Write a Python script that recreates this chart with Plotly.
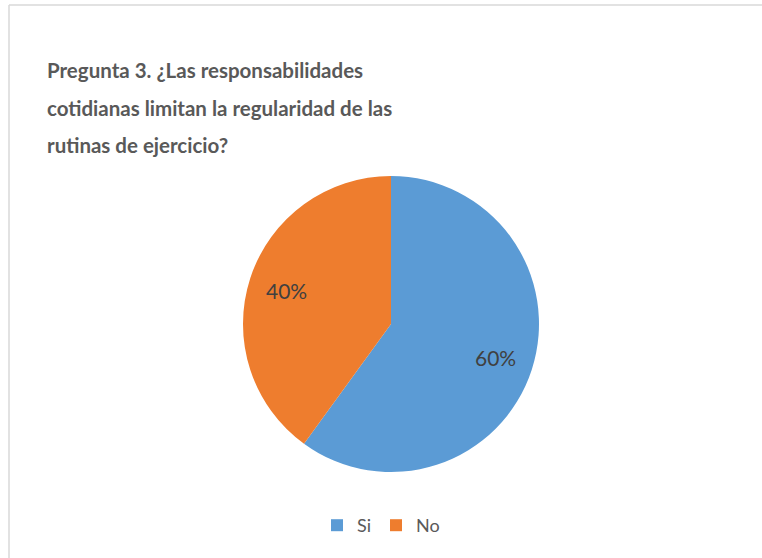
import math
import plotly.graph_objects as go

labels = ["Si", "No"]
values = [60, 40]
colors = ["#5B9BD5", "#EE7D2E"]
title_lines = [
    "Pregunta 3. ¿Las responsabilidades",
    "cotidianas limitan la regularidad de las",
    "rutinas de ejercicio?",
]

W, H = 762, 558
cx, cy, R = 391, 324, 148
fig = go.Figure()
fig.add_trace(go.Pie(
    labels=labels, values=values, sort=False, direction="clockwise", rotation=0,
    marker=dict(colors=colors, line=dict(width=0)),
    textinfo="none",
    domain=dict(x=[(cx - R) / W, (cx + R) / W], y=[1 - (cy + R) / H, 1 - (cy - R) / H]),
    hoverinfo="label+percent",
))

# data labels placed along each slice's mid-angle (computed from values)
total = sum(values)
acc = 0
for lab, v in zip(labels, values):
    mid = (acc + v / 2) / total * 2 * math.pi
    acc += v
    px = cx + 0.74 * R * math.sin(mid)
    py = cy - 0.74 * R * math.cos(mid)
    fig.add_annotation(text=f"{round(v / total * 100)}%", xref="paper", yref="paper",
                       x=px / W, y=1 - py / H, xanchor="center", yanchor="middle",
                       showarrow=False, font=dict(family="Lato", size=21, color="#404040"))

baselines = [84, 121.5, 159]
for i, line in enumerate(title_lines):
    fig.add_annotation(
        text="<b>" + line + "</b>", xref="paper", yref="paper",
        x=45 / W, y=1 - baselines[i] / H, xanchor="left", yanchor="bottom",
        showarrow=False, font=dict(family="Lato", size=20.5, color="#595959"),
    )

fig.add_shape(type="line", xref="paper", yref="paper",
              x0=9 / W, x1=1.2, y0=1 - 5 / H, y1=1 - 5 / H,
              line=dict(color="#D9D9D9", width=1.5))
fig.add_shape(type="line", xref="paper", yref="paper",
              x0=9 / W, x1=9 / W, y0=-0.2, y1=1 - 5 / H,
              line=dict(color="#D9D9D9", width=1.5))

fig.update_layout(
    width=W, height=H,
    margin=dict(l=0, r=0, t=0, b=0),
    paper_bgcolor="white", plot_bgcolor="white",
    showlegend=True,
    legend=dict(orientation="h", x=0.5, xanchor="center", y=1 - 507 / H, yanchor="top",
                font=dict(family="Lato", size=18, color="#595959")),
)
fig.write_html("out.html")
